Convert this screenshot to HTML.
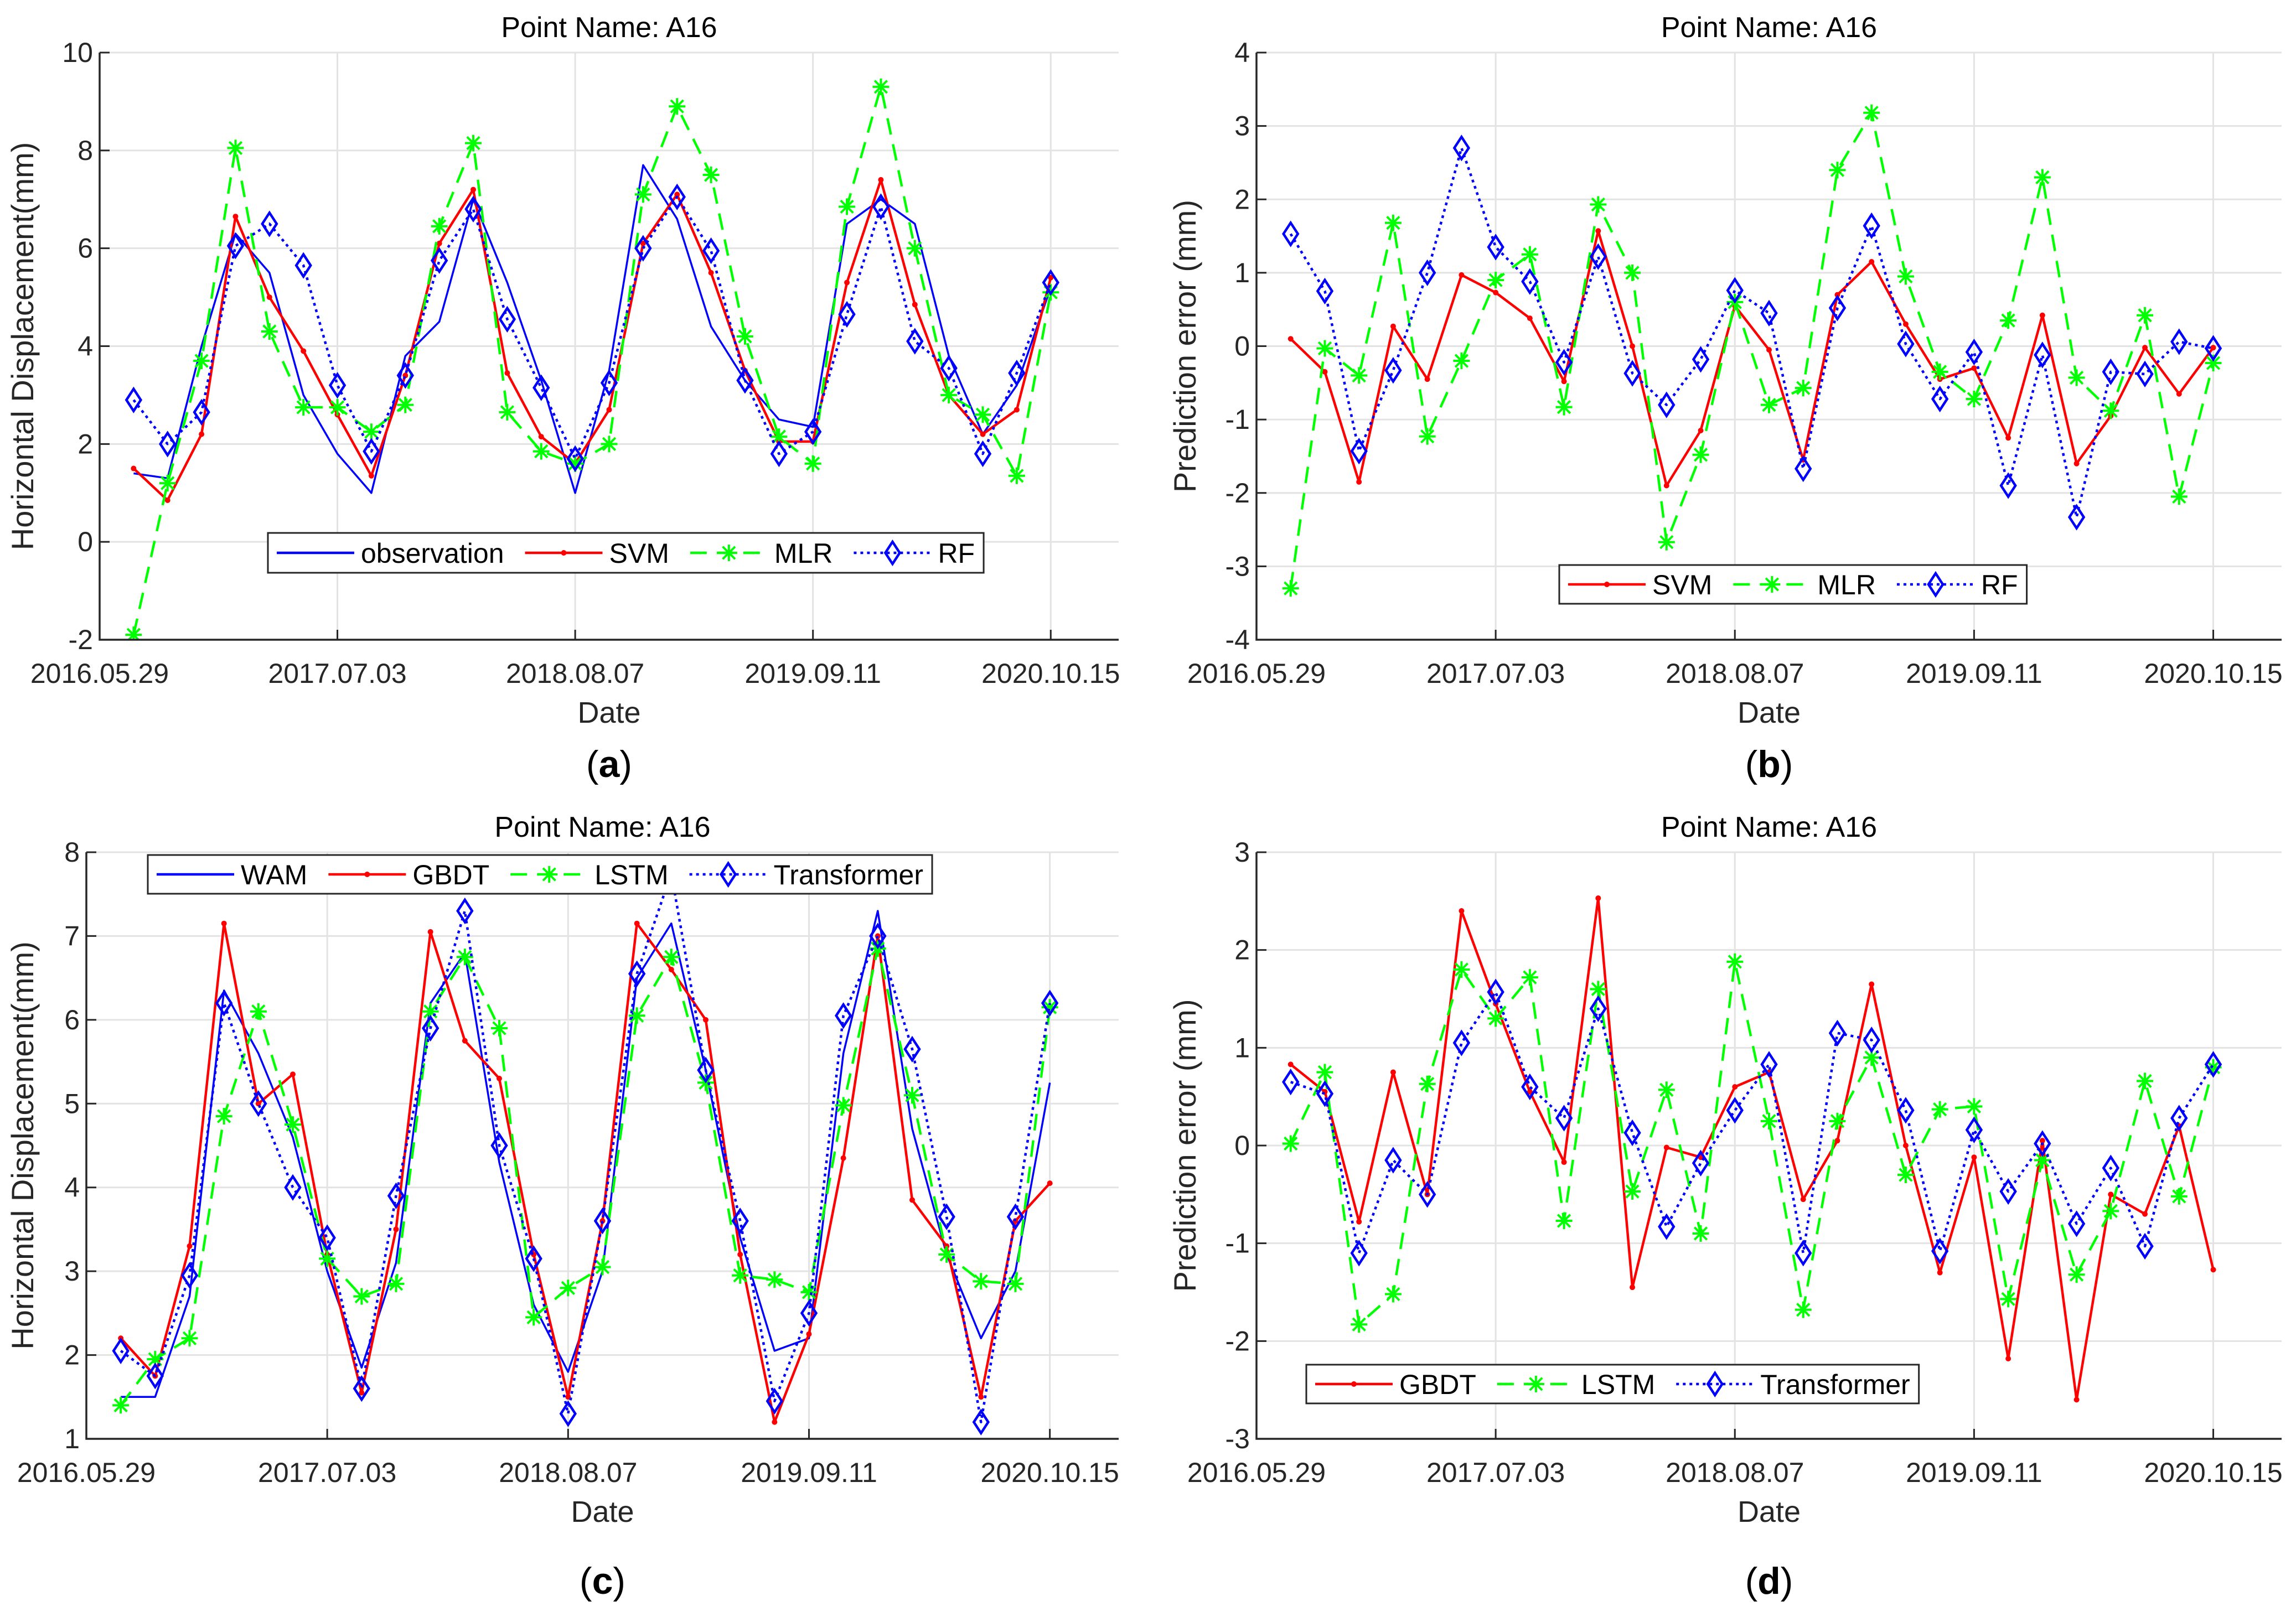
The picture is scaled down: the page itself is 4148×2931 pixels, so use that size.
<!DOCTYPE html>
<html><head><meta charset="utf-8"><style>
html,body{margin:0;padding:0;background:#fff;}
svg text{font-family:"Liberation Sans",sans-serif;}
</style></head><body>
<svg id="fig" width="4148" height="2926" viewBox="0 0 4148 2926" xmlns="http://www.w3.org/2000/svg"></svg>
<script>
const xTickLabels = ["2016.05.29","2017.07.03","2018.08.07","2019.09.11","2020.10.15"];
const xTickIdx = [-1,6,13,20,27];
const aObservation = [1.4,1.3,4.0,6.3,5.5,3.0,1.8,1.0,3.8,4.5,7.0,5.3,3.3,1.0,3.5,7.7,6.6,4.4,3.3,2.5,2.35,6.5,7.0,6.5,3.8,2.2,3.2,5.2];
const aSVM = [1.5,0.85,2.2,6.65,5.0,3.9,2.6,1.35,3.4,6.1,7.2,3.45,2.15,1.6,2.7,6.1,7.1,5.5,3.5,2.05,2.05,5.3,7.4,4.85,3.0,2.2,2.7,5.4];
const aMLR = [-1.9,1.2,3.7,8.05,4.3,2.75,2.75,2.25,2.8,6.45,8.15,2.65,1.85,1.6,2.0,7.1,8.9,7.5,4.2,2.15,1.6,6.85,9.3,6.0,3.0,2.6,1.35,5.1];
const aRF = [2.9,2.0,2.65,6.05,6.5,5.65,3.2,1.85,3.4,5.75,6.8,4.55,3.15,1.7,3.25,6.0,7.05,5.95,3.3,1.8,2.25,4.65,6.85,4.1,3.55,1.8,3.45,5.3];
const bSVM = [0.1,-0.35,-1.85,0.27,-0.45,0.97,0.73,0.38,-0.48,1.57,0.0,-1.9,-1.15,0.55,-0.05,-1.55,0.7,1.15,0.3,-0.45,-0.3,-1.25,0.42,-1.6,-0.95,-0.02,-0.65,-0.02];
const bMLR = [-3.3,-0.03,-0.4,1.68,-1.23,-0.2,0.9,1.25,-0.83,1.93,1.0,-2.67,-1.48,0.6,-0.8,-0.57,2.4,3.18,0.95,-0.35,-0.72,0.35,2.3,-0.43,-0.88,0.42,-2.05,-0.23];
const bRF = [1.53,0.75,-1.43,-0.33,1.0,2.7,1.35,0.88,-0.22,1.22,-0.37,-0.8,-0.18,0.76,0.45,-1.67,0.52,1.64,0.03,-0.72,-0.08,-1.9,-0.12,-2.33,-0.35,-0.38,0.06,-0.03];
const cWAM = [1.5,1.5,2.7,6.35,5.6,4.6,3.0,1.85,3.1,6.2,6.8,4.3,2.6,1.8,3.0,6.5,7.15,5.4,3.4,2.05,2.2,5.6,7.3,4.7,3.2,2.2,3.0,5.25];
const cGBDT = [2.2,1.75,3.3,7.15,5.0,5.35,3.2,1.55,3.5,7.05,5.75,5.3,3.2,1.5,3.6,7.15,6.6,6.0,3.2,1.2,2.25,4.35,7.0,3.85,3.3,1.5,3.6,4.05];
const cLSTM = [1.4,1.95,2.2,4.85,6.1,4.75,3.15,2.7,2.85,6.1,6.75,5.9,2.45,2.8,3.05,6.05,6.75,5.25,2.95,2.9,2.75,4.98,6.85,5.1,3.2,2.88,2.85,6.15];
const cTransformer = [2.05,1.75,2.95,6.2,5.0,4.0,3.4,1.6,3.9,5.9,7.3,4.5,3.15,1.3,3.6,6.55,7.75,5.4,3.6,1.45,2.5,6.05,7.0,5.65,3.65,1.2,3.65,6.2];
const dGBDT = [0.83,0.55,-0.78,0.75,-0.5,2.4,1.45,0.55,-0.17,2.53,-1.45,-0.02,-0.12,0.6,0.75,-0.55,0.05,1.65,0.0,-1.3,-0.12,-2.18,0.05,-2.6,-0.5,-0.7,0.2,-1.27];
const dLSTM = [0.02,0.75,-1.83,-1.52,0.63,1.8,1.3,1.72,-0.77,1.6,-0.47,0.57,-0.9,1.88,0.25,-1.68,0.25,0.9,-0.3,0.37,0.4,-1.57,-0.15,-1.32,-0.67,0.66,-0.52,0.8];
const dTransformer = [0.65,0.53,-1.1,-0.15,-0.5,1.05,1.57,0.6,0.28,1.4,0.13,-0.83,-0.18,0.36,0.83,-1.1,1.15,1.08,0.36,-1.08,0.16,-0.47,0.02,-0.8,-0.23,-1.03,0.28,0.83];
const aYTicks = [-2,0,2,4,6,8,10];
const bYTicks = [-4,-3,-2,-1,0,1,2,3,4];
const cYTicks = [1,2,3,4,5,6,7,8];
const dYTicks = [-3,-2,-1,0,1,2,3];

const NS="http://www.w3.org/2000/svg";
const svg=document.getElementById('fig');
function mk(tag,attrs,parent){const e=document.createElementNS(NS,tag);for(const k in attrs)e.setAttribute(k,attrs[k]);(parent||svg).appendChild(e);return e;}

const STY={
 obs:{color:'#0000ff',dash:null,marker:null},
 red:{color:'#ff0000',dash:null,marker:'dot'},
 green:{color:'#00ff00',dash:'30 18',marker:'star'},
 blue:{color:'#0000ff',dash:'5 7',marker:'diamond'}
};
function marker(g,type,x,y,color){
 if(type==='dot'){const m=mk('circle',{cx:x,cy:y,r:5,fill:color},g);}
 else if(type==='star'){const s=15;const p=mk('path',{d:`M${x-s} ${y}H${x+s}M${x} ${y-s}V${y+s}M${x-s*0.75} ${y-s*0.75}L${x+s*0.75} ${y+s*0.75}M${x-s*0.75} ${y+s*0.75}L${x+s*0.75} ${y-s*0.75}`,stroke:color,'stroke-width':4,fill:'none'},g);}
 else if(type==='diamond'){const w=13,h=20;const p=mk('path',{d:`M${x} ${y-h}L${x+w} ${y}L${x} ${y+h}L${x-w} ${y}Z`,stroke:color,'stroke-width':4.5,fill:'none'},g);}
}
function panel(o){
 const {id,L,R,T,B,ymin,ymax,yTicks,series,ylabel,legend,letter}=o;
 const g=mk('g',{});
 
 
 const xs=i=>L+(i+1)/30*(R-L);
 const ys=v=>B-(v-ymin)/(ymax-ymin)*(B-T);
 yTicks.forEach(v=>{const l=mk('line',{x1:L,x2:R,y1:ys(v),y2:ys(v),stroke:'#e3e3e3','stroke-width':3},g);});
 xTickIdx.forEach(i=>{const l=mk('line',{x1:xs(i),x2:xs(i),y1:T,y2:B,stroke:'#e3e3e3','stroke-width':3},g);});
 const cid='clip-'+id;
 const cp=mk('clipPath',{id:cid},g);mk('rect',{x:L,y:T,width:R-L,height:B-T},cp);
 const sg=mk('g',{'clip-path':`url(#${cid})`},g);
 series.forEach(s=>{
  const st=STY[s.style];
  const sgr=mk('g',{},sg);
  
  
  const d=s.data.map((v,i)=>(i?'L':'M')+xs(i).toFixed(1)+' '+ys(v).toFixed(1)).join('');
  const a={d:d,stroke:st.color,'stroke-width':s.style==='obs'?3.5:4.5,fill:'none','stroke-linejoin':'round'};
  if(st.dash)a['stroke-dasharray']=st.dash;
  const p=mk('path',a,sgr);
  
  
  if(st.marker)s.data.forEach((v,i)=>marker(sgr,st.marker,xs(i),ys(v),st.color));
 });
 const ax=mk('path',{d:`M${L} ${T}V${B}H${R}`,stroke:'#262626','stroke-width':3.5,fill:'none'},g);
 
 yTicks.forEach(v=>{
  mk('line',{x1:L,x2:L+18,y1:ys(v),y2:ys(v),stroke:'#262626','stroke-width':3},g);
  const t=mk('text',{x:L-12,y:ys(v)+17,'text-anchor':'end','font-size':50,fill:'#262626'},g);
  t.textContent=String(v);
 });
 xTickIdx.forEach((i,k)=>{
  mk('line',{x1:xs(i),x2:xs(i),y1:B,y2:B-18,stroke:'#262626','stroke-width':3},g);
  const t=mk('text',{x:xs(i),y:B+78,'text-anchor':'middle','font-size':50,fill:'#262626'},g);
  t.textContent=xTickLabels[k];
 });
 const cx=(L+R)/2;
 const ti=mk('text',{x:cx,y:T-28,'text-anchor':'middle','font-size':52,fill:'#000'},g);
 ti.textContent='Point Name: A16';
 const xl=mk('text',{x:cx,y:B+150,'text-anchor':'middle','font-size':54,fill:'#262626'},g);
 xl.textContent='Date';
 const yx=o.ylx, yy=(T+B)/2;
 const yl=mk('text',{x:yx,y:yy,'text-anchor':'middle','font-size':56,fill:'#262626',transform:`rotate(-90 ${yx} ${yy})`},g);
 yl.textContent=ylabel;
 const lt=mk('text',{x:cx,y:o.letterY,'text-anchor':'middle','font-size':68,fill:'#000','font-family':'Liberation Serif, serif'},g);
 lt.innerHTML='(<tspan font-weight="bold">'+letter+'</tspan>)';
 const lg=mk('g',{},g);
 const box=mk('rect',{x:legend.x,y:legend.y,width:10,height:legend.h,fill:'#fff',stroke:'#262626','stroke-width':3},lg);
 let x=legend.x+16;const cy=legend.y+legend.h/2;
 legend.items.forEach(s=>{
  const st=STY[s.style];
  const eg=mk('g',{},lg);
  const a={x1:x,x2:x+140,y1:cy,y2:cy,stroke:st.color,'stroke-width':4.5};if(st.dash)a['stroke-dasharray']=st.dash;
  mk('line',a,eg);
  if(st.marker)marker(eg,st.marker,x+70,cy,st.color);
  const t=mk('text',{x:x+152,y:cy+18,'font-size':50,fill:'#000'},eg);t.textContent=s.name;
  const w=t.getComputedTextLength();
  x+=152+w+legend.gap;
 });
 box.setAttribute('width',x-legend.x-legend.gap+16);
}
const A={L:180,R:2021,T:95,B:1156};
const C={L:156,R:2021,T:1540,B:2600};
panel({id:'panel-a',...A,ymin:-2,ymax:10,yTicks:aYTicks,ylabel:'Horizontal Displacement(mm)',ylx:60,letter:'a',letterY:1404,
 series:[{name:'observation',style:'obs',data:aObservation},{name:'SVM',style:'red',data:aSVM},{name:'MLR',style:'green',data:aMLR},{name:'RF',style:'blue',data:aRF}],
 legend:{x:484,y:963,h:72,gap:38,items:[{name:'observation',style:'obs'},{name:'SVM',style:'red'},{name:'MLR',style:'green'},{name:'RF',style:'blue'}]}});
panel({id:'panel-b',L:2270,R:4122,T:95,B:1156,ymin:-4,ymax:4,yTicks:bYTicks,ylabel:'Prediction error (mm)',ylx:2160,letter:'b',letterY:1404,
 series:[{name:'SVM',style:'red',data:bSVM},{name:'MLR',style:'green',data:bMLR},{name:'RF',style:'blue',data:bRF}],
 legend:{x:2817,y:1021,h:70,gap:38,items:[{name:'SVM',style:'red'},{name:'MLR',style:'green'},{name:'RF',style:'blue'}]}});
panel({id:'panel-c',...C,ymin:1,ymax:8,yTicks:cYTicks,ylabel:'Horizontal Displacement(mm)',ylx:60,letter:'c',letterY:2880,
 series:[{name:'WAM',style:'obs',data:cWAM},{name:'GBDT',style:'red',data:cGBDT},{name:'LSTM',style:'green',data:cLSTM},{name:'Transformer',style:'blue',data:cTransformer}],
 legend:{x:267,y:1545,h:70,gap:38,items:[{name:'WAM',style:'obs'},{name:'GBDT',style:'red'},{name:'LSTM',style:'green'},{name:'Transformer',style:'blue'}]}});
panel({id:'panel-d',L:2270,R:4122,T:1540,B:2600,ymin:-3,ymax:3,yTicks:dYTicks,ylabel:'Prediction error (mm)',ylx:2160,letter:'d',letterY:2880,
 series:[{name:'GBDT',style:'red',data:dGBDT},{name:'LSTM',style:'green',data:dLSTM},{name:'Transformer',style:'blue',data:dTransformer}],
 legend:{x:2360,y:2466,h:70,gap:38,items:[{name:'GBDT',style:'red'},{name:'LSTM',style:'green'},{name:'Transformer',style:'blue'}]}});
</script>
</body></html>
